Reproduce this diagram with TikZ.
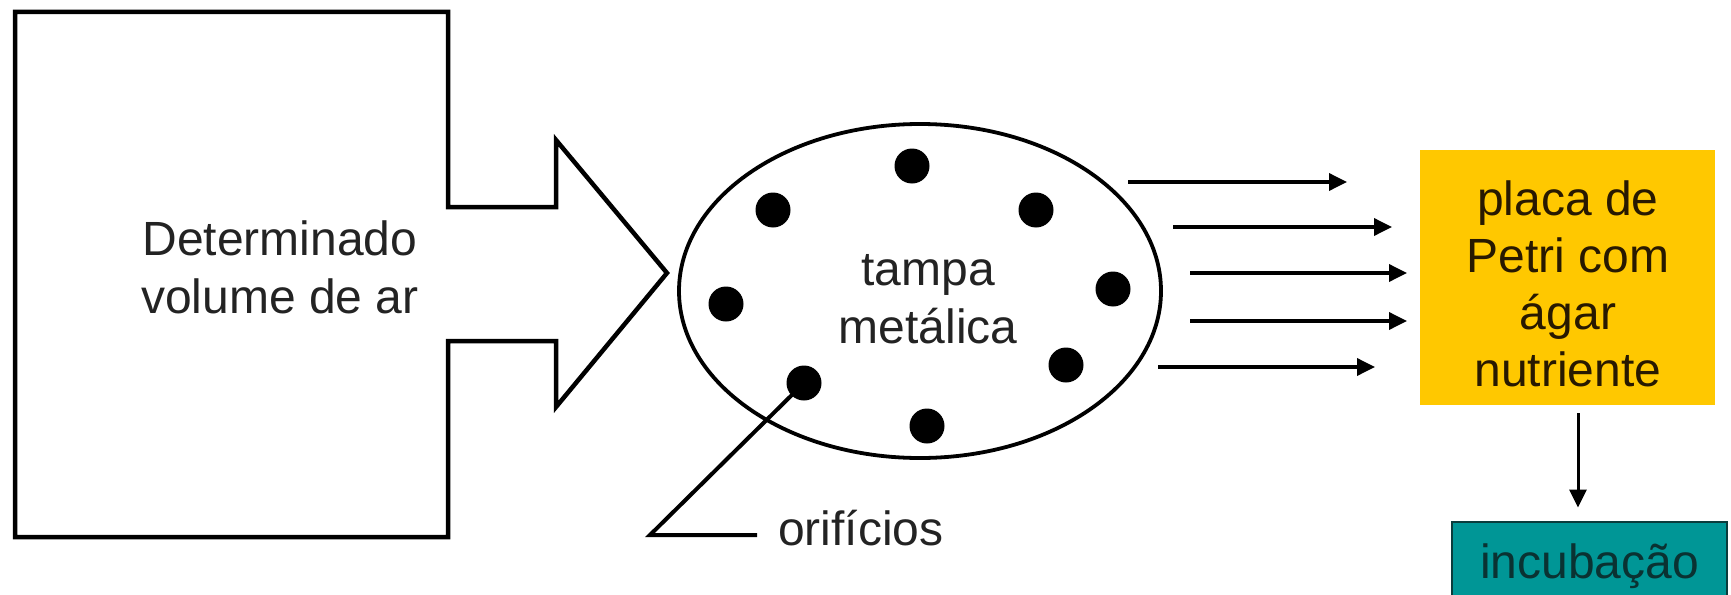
\documentclass[tikz,border=0pt]{standalone}
\usepackage{fontspec}
\setmainfont{Liberation Sans}
\usetikzlibrary{arrows.meta,shapes.geometric}

\definecolor{inkgray}{RGB}{35,35,35}
\definecolor{placayellow}{RGB}{255,200,0}
\definecolor{placatext}{RGB}{40,25,0}
\definecolor{incubteal}{RGB}{0,150,150}
\definecolor{incubedge}{RGB}{10,60,60}
\definecolor{incubtext}{RGB}{10,50,50}

\begin{document}
\begin{tikzpicture}[x=1pt,y=-1pt
,outline/.style={draw=black,line width=4.5pt,line join=miter}
,txt/.style={font=\fontsize{48}{58}\selectfont,text=inkgray,inner sep=0,align=center}
,hole/.style={circle,fill=black,minimum size=35pt,inner sep=0}
,flow/.style={line width=3.5pt,-{Triangle[length=18pt,width=17pt]}}
]
\useasboundingbox (0,0) rectangle (1731,594);
\clip (0,0) rectangle (1731,594);
\fill[white] (0,0) rectangle (1731,594);
% volume de ar: box with the big arrow
\draw[outline] (15,12) -- (448,12) -- (448,207) -- (556,207) -- (556,140) -- (667,273) -- (556,407) -- (556,341) -- (448,341) -- (448,537) -- (15,537) -- cycle;
\node[txt] (volume) at (280,267) {Determinado\\volume de ar};
% tampa
\node[draw,ellipse,line width=3.8pt,minimum width=482pt,minimum height=334pt,inner sep=0] (tampa) at (920,291) {};
\node[txt] (tampatxt) at (928,299) {tampa\\metálica};
\foreach \n/\p in {1/{912,166},2/{773,210},3/{1036,210},4/{726,304},5/{1113,289},6/{804,383},7/{1066,365},8/{927,426}}
  \node[hole] (h\n) at (\p) {};
\coordinate (kink) at (650,535);
\node[txt,anchor=base west] (orif) at (778,545) {orifícios};
\draw[line width=4pt,shorten >=21pt] (h6.center) -- (kink) -- (kink -| orif.west);
% air jets
\foreach \y/\a/\b in {182/1128/1347,227/1173/1392,273/1190/1407,321/1190/1407,367/1158/1375}
  \draw[flow] (\a,\y) -- (\b,\y);
% placa and incubacao
\node[fill=placayellow,minimum width=295pt,minimum height=255pt,inner sep=0] (placa) at (1567.5,277.5) {};
\node[txt,text=placatext,font=\fontsize{48}{57}\selectfont] (placatxt) at (1568,284) {placa de\\Petri com\\ágar\\nutriente};
\node[txt,fill=incubteal,draw=incubedge,line width=2pt,text=incubtext,minimum width=275pt,minimum height=89pt] (incub) at (1589.5,566) {incubação};
\coordinate (drop) at (1578,0);
\draw[flow,line width=3pt,shorten <=8pt,shorten >=13pt] (placa.south -| drop) -- (incub.north -| drop);
\end{tikzpicture}
\end{document}
